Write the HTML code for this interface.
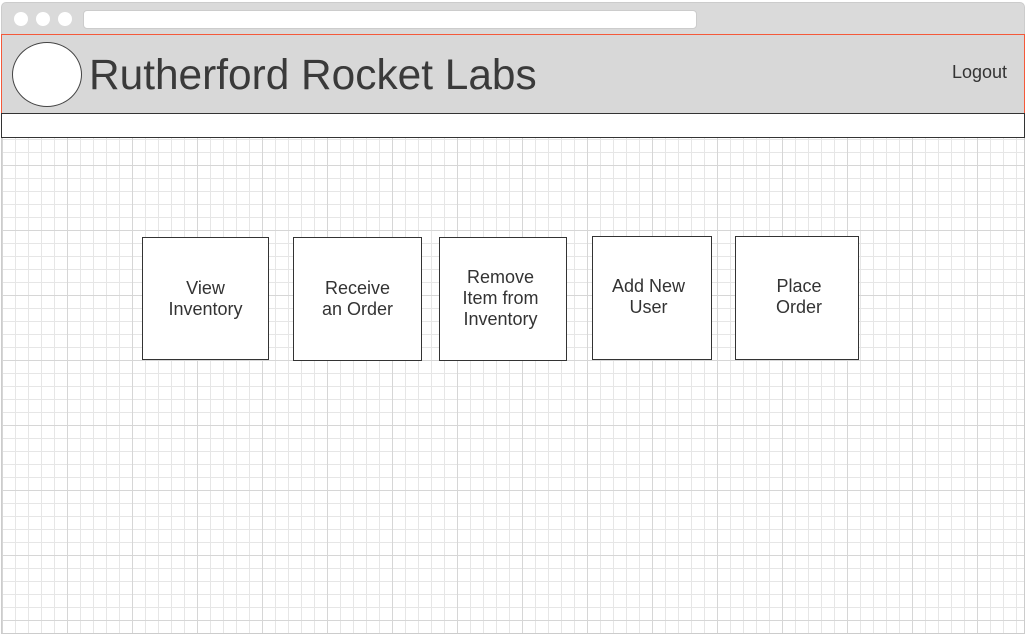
<!DOCTYPE html>
<html><head><style>
body{margin:0;width:1025px;height:634px;overflow:hidden;background:#fff;font-family:"Liberation Sans",sans-serif;position:relative}
.abs{position:absolute;box-sizing:border-box}
.grid{left:1px;top:138px;width:1024px;height:496px;
background-image:linear-gradient(#d6d6d6 1px,transparent 1px),linear-gradient(90deg,#d6d6d6 1px,transparent 1px),linear-gradient(#e6e6e6 1px,transparent 1px),linear-gradient(90deg,#e6e6e6 1px,transparent 1px);
background-size:65px 65px,65px 65px,13px 13px,13px 13px;background-position:0 27px,0 0,0 1px,0 0;border-left:1px solid #ccc;border-right:1px solid #ccc;border-bottom:1px solid #ccc}
.box{border:1px solid #333;background:#fff;display:flex;align-items:center;justify-content:center;text-align:center;font-size:18px;color:#333;line-height:21px}
.dot{width:14px;height:14px;border-radius:50%;background:#fff;top:12px}
</style></head><body>
<div class="abs" style="left:1px;top:2px;width:1024px;height:34px;background:#dadada;border-radius:5px 5px 0 0;border:1px solid #ccc"></div>
<div class="abs dot" style="left:14px"></div>
<div class="abs dot" style="left:36px"></div>
<div class="abs dot" style="left:58px"></div>
<div class="abs" style="left:83px;top:10px;width:614px;height:19px;background:#fff;border-radius:4px;border:1px solid #ccc"></div>
<div class="abs" style="left:1px;top:34px;width:1024px;height:80px;background:#d8d8d8;border:1px solid #f4593a;border-bottom:none"></div>
<div class="abs" style="left:12px;top:42px;width:70px;height:65px;border-radius:50%;background:#fff;border:1px solid #444"></div>
<div class="abs" style="left:89px;top:50px;font-size:42.4px;color:#3a3a3a;line-height:50px">Rutherford Rocket Labs</div>
<div class="abs" style="left:952px;top:62px;font-size:18px;color:#333">Logout</div>
<div class="abs" style="left:1px;top:113px;width:1024px;height:25px;background:#fff;border:1px solid #333"></div>
<div class="abs grid"></div>
<div class="abs box" style="left:142px;top:237px;width:127px;height:123px">View<br>Inventory</div>
<div class="abs box" style="left:293px;top:237px;width:129px;height:124px">Receive<br>an Order</div>
<div class="abs box" style="left:439px;top:237px;width:128px;height:124px;padding-right:5px;padding-bottom:2px">Remove<br>Item from<br>Inventory</div>
<div class="abs box" style="left:592px;top:236px;width:120px;height:124px;padding-bottom:2px;padding-right:7px">Add New<br>User</div>
<div class="abs box" style="left:735px;top:236px;width:124px;height:124px;padding-bottom:2px;padding-left:4px">Place<br>Order</div>
</body></html>
